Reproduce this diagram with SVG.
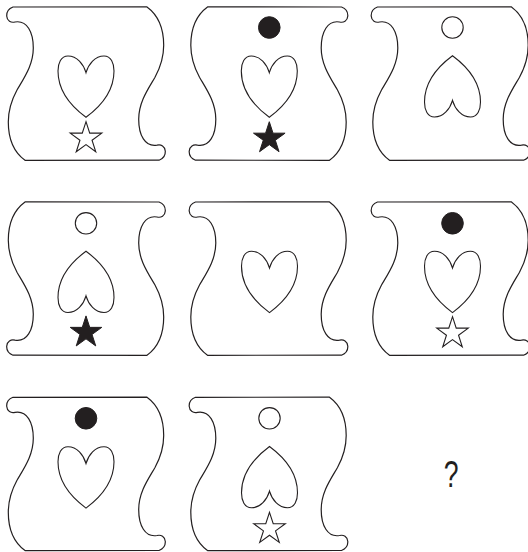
<svg xmlns="http://www.w3.org/2000/svg" xmlns:xlink="http://www.w3.org/1999/xlink" width="528" height="552" viewBox="0 0 528 552">
<style>
.tile{fill:#fff;stroke:#231f20;stroke-width:1.2;stroke-linejoin:round}
.open{fill:#fff;stroke:#231f20;stroke-width:1.1;stroke-linejoin:miter}
.fill{fill:#231f20;stroke:#231f20;stroke-width:1}
.q{font-family:"Liberation Sans",Arial,sans-serif;font-size:37px;fill:#231f20}
</style>
<defs>
<path id="tile" d="M13,7 C9,8.5 6.5,12 6.7,16 C7,21 11,23 15,22 C27,20 33.3,32 33.3,48 C33.3,65 24,78 17,90 C11,101 8.3,112 8.3,122 C8.3,140 15,153 25,160.3 L159,160.2 C163,158.7 165.5,155.2 165.3,151.2 C165,146.2 161,144.2 157,145.2 C145,147.2 138.7,135.2 138.7,119.2 C138.7,102.2 148,89.2 155,77.2 C161,66.2 163.7,55.2 163.7,45.2 C163.7,27.2 157,14.2 147,6.9 Z"/>
<path id="heart" d="M0,72.7 C2.5,64 9,56 18,56 C25,56 28,63 28,71 C28,88 18,104 0,117.3 C-18,104 -28,88 -28,71 C-28,63 -25,56 -18,56 C-9,56 -2.5,64 0,72.7 Z"/>
<polygon id="star" points="0,-16.6 3.73,-5.14 15.79,-5.13 6.04,1.96 9.76,13.43 0,6.35 -9.76,13.43 -6.04,1.96 -15.79,-5.13 -3.73,-5.14"/>
</defs>
<g id="connectors"/>
<g id="r1c1" transform="translate(0,0)">
<use xlink:href="#tile" class="tile"/>
<use xlink:href="#heart" class="open" transform="translate(86,0)"/>
<use xlink:href="#star" class="open" transform="translate(86,138.3)"/>
</g>
<g id="r1c2" transform="translate(182.5,0)">
<use xlink:href="#tile" class="tile" transform="matrix(-1,0,0,1,172,0)"/>
<circle cx="86.8" cy="27.5" r="10.8" class="fill"/>
<use xlink:href="#heart" class="open" transform="translate(86.8,0)"/>
<use xlink:href="#star" class="fill" transform="translate(86.8,138.3)"/>
</g>
<g id="r1c3" transform="translate(364.5,0)">
<use xlink:href="#tile" class="tile"/>
<circle cx="88" cy="27.5" r="10.7" class="open"/>
<use xlink:href="#heart" class="open" transform="translate(88,173) scale(1,-1)"/>
</g>
<g id="r2c1" transform="translate(0,195)">
<use xlink:href="#tile" class="tile" transform="matrix(-1,0,0,1,172,0)"/>
<circle cx="86" cy="28.3" r="10.7" class="open"/>
<use xlink:href="#heart" class="open" transform="translate(86,173.5) scale(1,-1)"/>
<use xlink:href="#star" class="fill" transform="translate(86,137.5)"/>
</g>
<g id="r2c2" transform="translate(182.5,195)">
<use xlink:href="#tile" class="tile"/>
<use xlink:href="#heart" class="open" transform="translate(87,0.3)"/>
</g>
<g id="r2c3" transform="translate(364.5,195)">
<use xlink:href="#tile" class="tile"/>
<circle cx="88" cy="28.3" r="10.8" class="fill"/>
<use xlink:href="#heart" class="open" transform="translate(88,0.3)"/>
<use xlink:href="#star" class="open" transform="translate(88,138.3)"/>
</g>
<g id="r3c1" transform="translate(0,390.3)">
<use xlink:href="#tile" class="tile"/>
<circle cx="86" cy="28" r="10.8" class="fill"/>
<use xlink:href="#heart" class="open" transform="translate(86,0.5)"/>
</g>
<g id="r3c2" transform="translate(182.5,390.3)">
<use xlink:href="#tile" class="tile"/>
<circle cx="87" cy="28" r="10.7" class="open"/>
<use xlink:href="#heart" class="open" transform="translate(87,173.5) scale(1,-1)"/>
<use xlink:href="#star" class="open" transform="translate(87,138.6)"/>
</g>
<g id="question">
<text class="q" x="0" y="0" text-anchor="middle" transform="translate(451.2,486.5) scale(0.72,1)">?</text>
</g>
</svg>
